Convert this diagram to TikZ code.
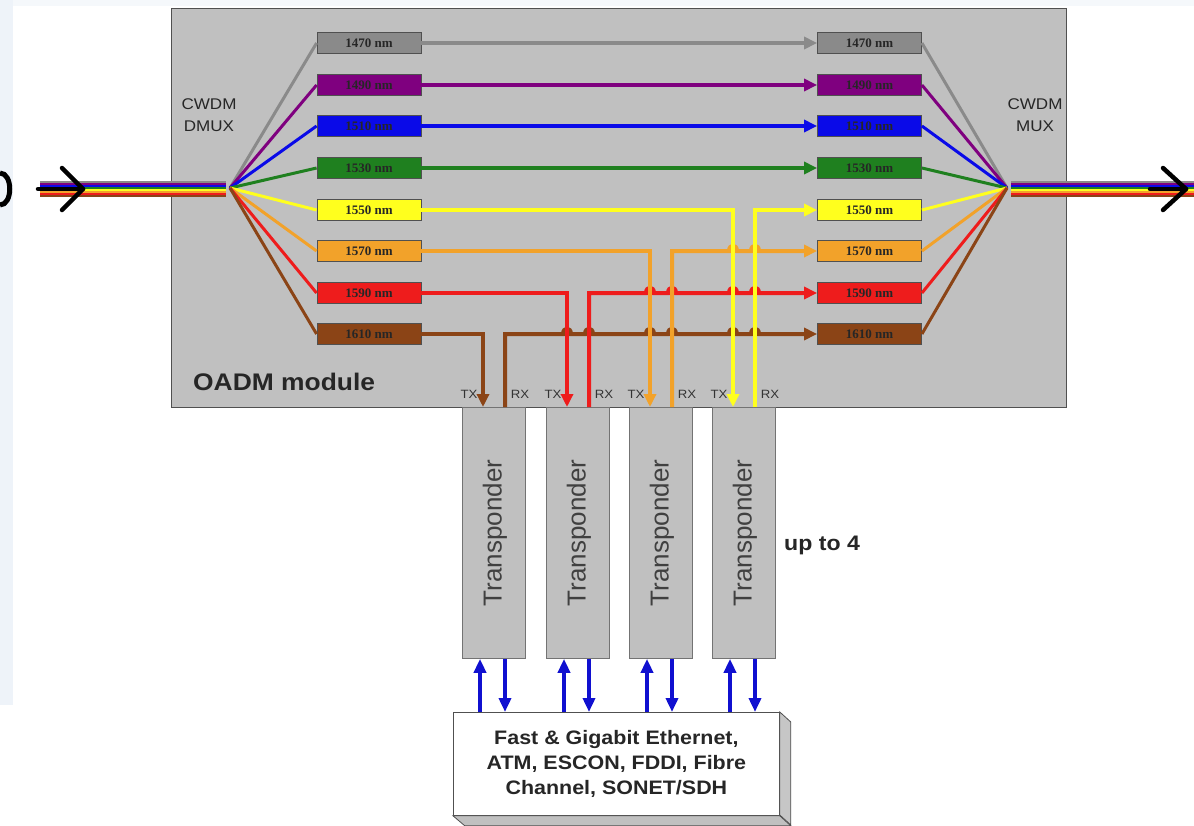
\documentclass[tikz,border=0pt]{standalone}
\usepackage{fontspec}
\setmainfont{Liberation Sans}
\newfontfamily\widesans[FakeStretch=1.1]{Liberation Sans}
\newfontfamily\nmfont{Liberation Serif}
\usetikzlibrary{arrows.meta,calc}
\definecolor{cgray}{HTML}{8A8A8A}
\definecolor{cpurple}{HTML}{7F007F}
\definecolor{cblue}{HTML}{0A0AE8}
\definecolor{cgreen}{HTML}{1F801F}
\definecolor{cyellow}{HTML}{FFFF1E}
\definecolor{corange}{HTML}{F2A22A}
\definecolor{cred}{HTML}{EE1C1C}
\definecolor{cbrown}{HTML}{8B4416}
\definecolor{modfill}{HTML}{C0C0C0}
\definecolor{modline}{HTML}{505050}
\definecolor{arrblue}{HTML}{1010D0}
\definecolor{bgblue}{HTML}{EEF3F9}
\newcommand\hopat[2]{-- (#1-4,#2) .. controls (#1-4,#2-7) and (#1+4,#2-7) .. (#1+4,#2)}
\begin{document}
\begin{tikzpicture}[x=1pt,y=-1pt,
  wl/.style={draw=modline, line width=0.8pt, minimum width=104pt, minimum height=21pt,
    inner sep=0pt, font=\nmfont\bfseries\fontsize{13}{13}\selectfont, text=black!85},
  fan/.style={line width=3pt},
  hline/.style={line width=4pt, -{Triangle[length=13pt,width=12pt]}},
  plain/.style={line width=4pt},
  trans/.style={draw=modline!80, fill=modfill, line width=0.8pt, minimum width=63pt,
    minimum height=251pt, anchor=north west, inner sep=0pt},
  txrx/.style={font=\widesans\fontsize{12}{12}\selectfont, text=black!80},
  barrow/.style={arrblue, line width=3.5pt, -{Triangle[length=14pt,width=12pt]}},
  chev/.style={line width=4.5pt, line cap=round, line join=round},
]
\useasboundingbox (0,0) rectangle (1194,825);
\fill[white] (0,0) rectangle (1194,825);
\fill[bgblue] (0,0) rectangle (13,705);
\fill[bgblue!60] (13,0) rectangle (1194,6);
% partial glyph at the left edge
\draw[line width=5pt] (0,173) .. controls (13,173) and (13,205) .. (0,205);

% module
\node[draw=modline, fill=modfill, line width=0.8pt, minimum width=895pt, minimum height=399pt,
  anchor=north west, inner sep=0pt] (oadm) at (171,8) {};
\node[font=\widesans\fontsize{15.5}{22}\selectfont, align=center, text=black!85] (dmuxlbl) at (209,115) {CWDM\\DMUX};
\node[font=\widesans\fontsize{15.5}{22}\selectfont, align=center, text=black!85] (muxlbl) at (1035,115) {CWDM\\MUX};
\node[font=\widesans\bfseries\fontsize{24}{24}\selectfont, anchor=west, inner sep=0pt, text=black!85] (modlbl) at (193,382) {OADM module};

\coordinate (dmux) at (230,188);
\coordinate (mux) at (1007,188);

% wavelength boxes
\foreach \n/\y/\c/\t in {1/43/cgray/1470,2/85/cpurple/1490,3/126/cblue/1510,4/168/cgreen/1530,
                         5/210/cyellow/1550,6/251/corange/1570,7/293/cred/1590,8/334/cbrown/1610}{
  \node[wl, fill=\c] (L\n) at (369,\y) {\t\ nm};
  \node[wl, fill=\c] (R\n) at (869.5,\y) {\t\ nm};
}

% bundles and fans
\foreach \n/\c in {1/cgray,2/cpurple,3/cblue,4/cgreen,5/cyellow,6/corange,7/cred,8/cbrown}{
  \draw[\c, line width=2pt] (40,179.5+2*\n) -- (226,179.5+2*\n);
  \draw[\c, line width=2pt] (1011,179.5+2*\n) -- (1194,179.5+2*\n);
  \draw[\c, fan] (dmux) -- (L\n.west);
  \draw[\c, fan] (R\n.east) -- (mux);
}
% chevrons
\coordinate (inTip) at (83,189);
\coordinate (outTip) at (1186,189);
\draw[chev] (38,189) -- (inTip);
\draw[chev] (62,168) -- (inTip) -- (62,210);
\draw[chev] (1150,189) -- (outTip);
\draw[chev] (1163,168) -- (outTip) -- (1163,210);

% transponders
\node[trans] (T1) at (462,407) {};
\node[trans] (T2) at (546,407) {};
\node[trans] (T3) at (629,407) {};
\node[trans] (T4) at (712,407) {};
\foreach \i in {1,...,4}{
  \node[rotate=90, font=\fontsize{26}{26}\selectfont, text=black!75] at ([xshift=1]T\i.center) {Transponder};
  \node[txrx] at ([xshift=7,yshift=13]T\i.north west) {TX};
  \node[txrx] at ([xshift=58,yshift=13]T\i.north west) {RX};
  \coordinate (tx\i) at ([xshift=21]T\i.north west);
  \coordinate (rx\i) at ([xshift=43]T\i.north west);
}
\node[font=\widesans\bfseries\fontsize{21}{21}\selectfont, anchor=west, inner sep=0pt, text=black!85] (upto) at (784,545) {up to 4};

% pass-through channels
\draw[cgray, hline] (L1.east) -- (R1.west);
\draw[cpurple, hline] (L2.east) -- (R2.west);
\draw[cblue, hline] (L3.east) -- (R3.west);
\draw[cgreen, hline] (L4.east) -- (R4.west);

% dropped / added channels: RX (added) horizontals first, with hops
\draw[cbrown, hline] (rx1) -- (rx1 |- R8.west) \hopat{567}{334} \hopat{589}{334} \hopat{650}{334}
  \hopat{672}{334} \hopat{733}{334} \hopat{755}{334} -- (R8.west);
\draw[cred, hline] (rx2) -- (rx2 |- R7.west) \hopat{650}{293} \hopat{672}{293}
  \hopat{733}{293} \hopat{755}{293} -- (R7.west);
\draw[corange, hline] (rx3) -- (rx3 |- R6.west) \hopat{733}{251} \hopat{755}{251} -- (R6.west);
\draw[cyellow, hline] (rx4) -- (rx4 |- R5.west) -- (R5.west);
% TX drops
\draw[cbrown, hline] (L8.east) -| (tx1);
\draw[cred, hline] (L7.east) -| (tx2);
\draw[corange, hline] (L6.east) -| (tx3);
\draw[cyellow, hline] (L5.east) -| (tx4);
% redraw RX verticals on top
\draw[cred, plain] (rx2) -- (rx2 |- R7.west);
\draw[corange, plain] (rx3) -- (rx3 |- R6.west);
\draw[cyellow, plain] (rx4) -- (rx4 |- R5.west);

% client box (3D)
\node[draw=modline, fill=white, line width=0.8pt, minimum width=326pt, minimum height=103pt,
  anchor=north west, inner sep=0pt, align=center,
  font=\widesans\bfseries\fontsize{19.5}{25}\selectfont, text=black!85] (net) at (453,712)
  {Fast \& Gigabit Ethernet,\\ATM, ESCON, FDDI, Fibre\\Channel, SONET/SDH};
\filldraw[fill=modfill!90, draw=modline, line width=0.8pt] (net.north east) -- ++(11,10) -- ++(0,103) -- ++(-11,-10) -- cycle;
\filldraw[fill=modfill, draw=modline, line width=0.8pt] (net.south west) -- (net.south east) -- ++(11,10) -- ++(-326,0) -- cycle;

% client arrows
\foreach \i in {1,...,4}{
  \draw[barrow] ([xshift=18]T\i.south west |- net.north) -- ([xshift=18]T\i.south west);
  \draw[barrow] ([xshift=43]T\i.south west) -- ([xshift=43]T\i.south west |- net.north);
}
\end{tikzpicture}
\end{document}
